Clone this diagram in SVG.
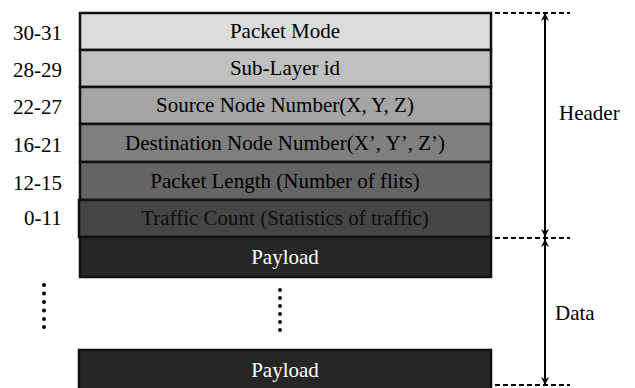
<svg xmlns="http://www.w3.org/2000/svg" width="635" height="388" viewBox="0 0 635 388">
<style>
.row{stroke:#111;stroke-width:2.5}
text{font-family:"Liberation Serif","Times New Roman",Times,serif;font-size:21px}
.t{text-anchor:middle}
.dash{stroke:#000;stroke-width:2;stroke-dasharray:5,3;fill:none}
.ax{stroke:#000;stroke-width:2;fill:none}
</style>
<defs>
<marker id="ah" viewBox="0 0 10 10" refX="10" refY="5" markerWidth="6" markerHeight="4" orient="auto-start-reverse" markerUnits="strokeWidth">
<path d="M0,0 L10,5 L0,10 L3,5 z" fill="#000"/>
</marker>
</defs>
<rect width="635" height="388" fill="#fff"/>
<g id="row-packet-mode"><rect class="row" x="80" y="13" width="411" height="37" fill="#dcdcdc"/><text class="t" x="285" y="38">Packet Mode</text><text x="13" y="40">30-31</text></g>
<g id="row-sublayer"><rect class="row" x="80" y="50" width="411" height="37" fill="#c0c0c0"/><text class="t" x="285" y="75">Sub-Layer id</text><text x="13" y="77">28-29</text></g>
<g id="row-source"><rect class="row" x="80" y="87" width="411" height="37" fill="#a5a5a5"/><text class="t" x="285" y="112">Source Node Number(X, Y, Z)</text><text x="13" y="114">22-27</text></g>
<g id="row-destination"><rect class="row" x="80" y="124" width="411" height="38" fill="#7f7f7f"/><text class="t" x="285" y="150">Destination Node Number(X’, Y’, Z’)</text><text x="13" y="152">16-21</text></g>
<g id="row-length"><rect class="row" x="80" y="162" width="411" height="38" fill="#646464"/><text class="t" x="285" y="188">Packet Length (Number of flits)</text><text x="13" y="190">12-15</text></g>
<g id="row-traffic"><rect class="row" x="79" y="200" width="412" height="37" fill="#454545"/><text class="t" x="285" y="225" fill="#0d0d0d">Traffic Count (Statistics of traffic)</text><text x="24" y="225">0-11</text></g>
<g id="payload-1"><rect class="row" x="80" y="237" width="411" height="40" fill="#262626" stroke-width="3"/><text class="t" x="285" y="264" fill="#fff">Payload</text></g>
<g id="payload-2"><rect class="row" x="79" y="350" width="412" height="40" fill="#262626"/><text class="t" x="285" y="377" fill="#fff">Payload</text></g>
<g id="dots" fill="#000">
<circle cx="44" cy="285" r="2"/><circle cx="44" cy="293.5" r="2"/><circle cx="44" cy="302" r="2"/><circle cx="44" cy="310.5" r="2"/><circle cx="44" cy="319" r="2"/><circle cx="44" cy="327" r="2"/>
<circle cx="280" cy="290" r="2"/><circle cx="280" cy="298" r="2"/><circle cx="280" cy="306" r="2"/><circle cx="280" cy="314" r="2"/><circle cx="280" cy="322" r="2"/><circle cx="280" cy="330" r="2"/>
</g>
<g id="connectors">
<line class="dash" x1="495" y1="13" x2="570" y2="13"/>
<line class="dash" x1="495" y1="238" x2="570" y2="238"/>
<line class="dash" x1="495" y1="385" x2="570" y2="385"/>
<line class="ax" x1="545" y1="13" x2="545" y2="237" marker-start="url(#ah)" marker-end="url(#ah)"/>
<line class="ax" x1="545" y1="239" x2="545" y2="385" marker-start="url(#ah)" marker-end="url(#ah)"/>
</g>
<g id="brace-labels">
<text x="559" y="120">Header</text>
<text x="555" y="320">Data</text>
</g>
</svg>
